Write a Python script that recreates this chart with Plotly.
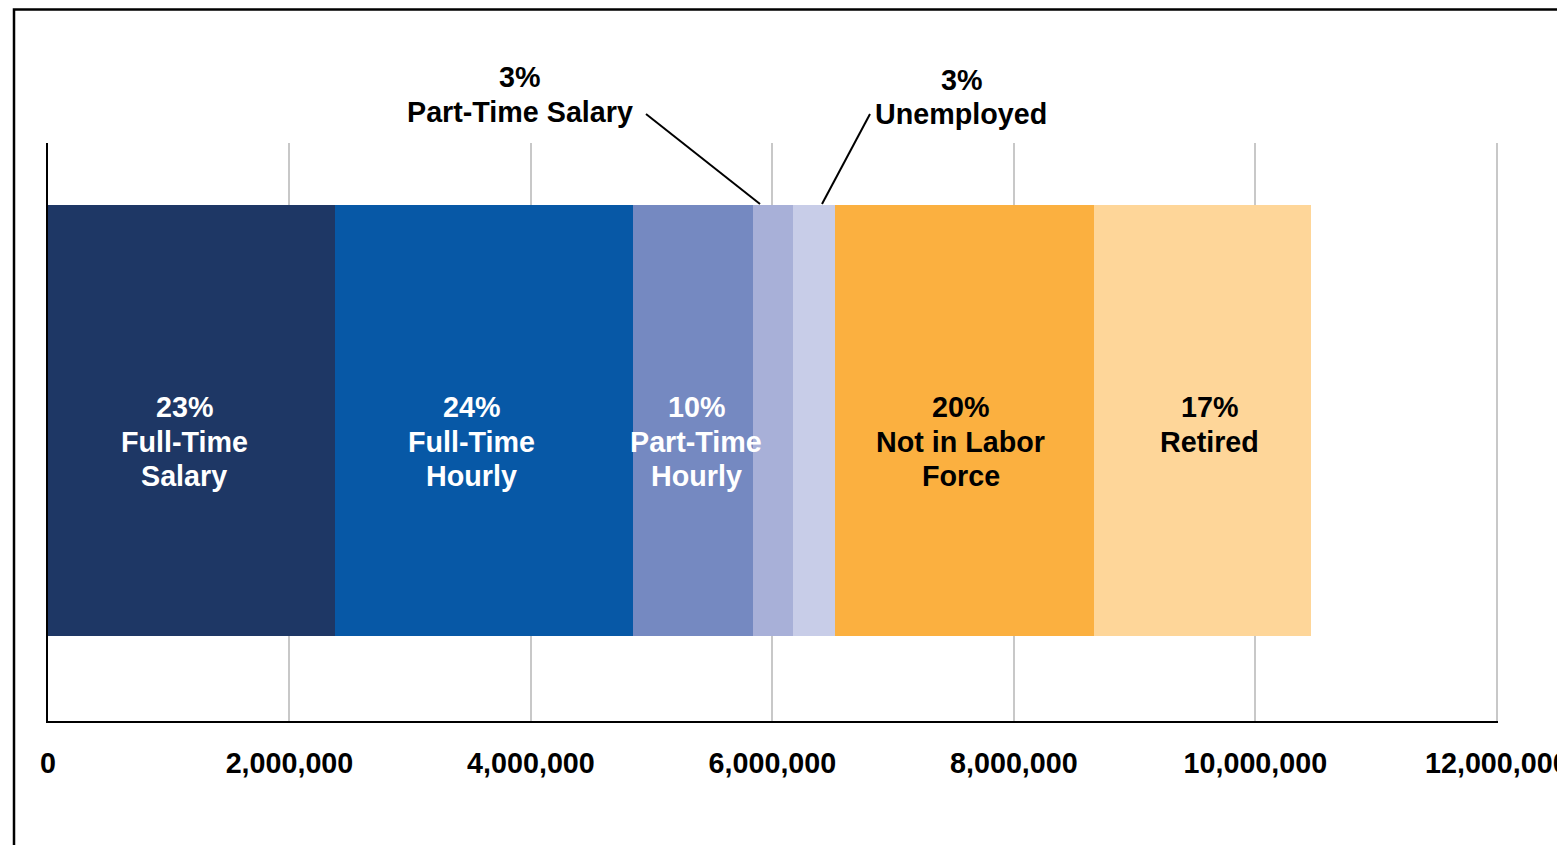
import plotly.graph_objects as go

categories = ["Full-Time Salary", "Full-Time Hourly", "Part-Time Hourly",
              "Part-Time Salary", "Unemployed", "Not in Labor Force", "Retired"]
values = [2375000, 2474000, 993000, 331000, 348000, 2143000, 1796000]
pct_labels = ["23%", "24%", "10%", "3%", "3%", "20%", "17%"]
inside_names = [["Full-Time", "Salary"], ["Full-Time", "Hourly"], ["Part-Time", "Hourly"],
                None, None, ["Not in Labor", "Force"], ["Retired"]]
colors = ["#1E3765", "#0758A6", "#7589C1", "#A8B0D8", "#C8CDE8", "#FBB040", "#FED699"]
label_colors = ["white", "white", "white", "black", "black", "black", "black"]
label_xshift = [-7, -13, 3, 0, 0, -4, 7]
tick_vals = [0, 2000000, 4000000, 6000000, 8000000, 10000000, 12000000]
tick_text = ["0", "2,000,000", "4,000,000", "6,000,000", "8,000,000", "10,000,000", "12,000,000"]

FONT = "Liberation Sans, Arial, sans-serif"
FS = 28.7
OFF = 8  # default body margin of the html page
W, H = 1565 - 2 * OFF, 853 - 2 * OFF
# target screen positions of the plot area: x 48..1498, y 143..721
L, T = 48 - OFF, 143 - OFF
PW, PH = 1450, 578
R, B = W - L - PW, H - T - PH
BARW = 0.747
YR = [-0.52, 0.48]
XMAX = 12010000
LINE_H = 34.5


def px_to_paper(sx, sy):
    return (sx - 48) / PW, (721 - sy) / PH


fig = go.Figure()
for c, v, col in zip(categories, values, colors):
    fig.add_trace(go.Bar(x=[v], y=[0], orientation="h", name=c,
                         marker=dict(color=col, line=dict(width=0)),
                         width=BARW, hoverinfo="x+name"))

annotations = []
bar_center_px = (YR[1] - 0) / (YR[1] - YR[0]) * PH  # from plot top
first_line_offset = 407 - 143 - bar_center_px
cum = 0
for v, p, n, lc, xs in zip(values, pct_labels, inside_names, label_colors, label_xshift):
    mid = cum + v / 2
    cum += v
    if n is None:
        continue
    for i, line in enumerate([p] + n):
        annotations.append(dict(x=mid, y=0, xref="x", yref="y", xanchor="center",
                                yanchor="middle", xshift=xs,
                                yshift=-(first_line_offset + LINE_H * i),
                                text="<b>%s</b>" % line, showarrow=False,
                                font=dict(family=FONT, size=FS, color=lc)))

# outside callouts (paper positions)
callouts = [(3, 520, 77), (4, 961, 80)]
for idx, sx, sy in callouts:
    for i, line in enumerate([pct_labels[idx], categories[idx]]):
        px, py = px_to_paper(sx, sy + LINE_H * i)
        annotations.append(dict(x=px, y=py, xref="paper", yref="paper",
                                xanchor="center", yanchor="middle",
                                text="<b>%s</b>" % line, showarrow=False,
                                font=dict(family=FONT, size=FS, color="black")))

a0 = px_to_paper(646, 114)
a1 = px_to_paper(760, 204)
b0 = px_to_paper(870, 114)
b1 = px_to_paper(822, 204)
fr0 = px_to_paper(14, OFF + 1.5)
shapes = [
    dict(type="line", xref="paper", yref="paper", x0=a0[0], y0=a0[1], x1=a1[0], y1=a1[1],
         line=dict(color="black", width=2)),
    dict(type="line", xref="paper", yref="paper", x0=b0[0], y0=b0[1], x1=b1[0], y1=b1[1],
         line=dict(color="black", width=2)),
    dict(type="rect", xref="paper", yref="paper",
         x0=fr0[0], x1=1.3, y0=-0.5, y1=fr0[1],
         line=dict(color="black", width=2.5), layer="above"),
]

fig.update_layout(
    width=W, height=H, barmode="stack", bargap=0,
    margin=dict(l=L, r=R, t=T, b=B, pad=0, autoexpand=False),
    plot_bgcolor="white", paper_bgcolor="white",
    showlegend=False,
    font=dict(family=FONT, size=FS, color="black"),
    annotations=annotations, shapes=shapes,
    xaxis=dict(range=[0, XMAX], tickvals=tick_vals, ticktext=tick_text,
               showgrid=True, gridcolor="#C8C8C8", gridwidth=2,
               showline=True, linecolor="black", linewidth=2,
               ticks="", zeroline=False, ticklabelstandoff=16,
               ticklabeloverflow="allow",
               tickfont=dict(family=FONT, size=FS, color="black", weight="bold")),
    yaxis=dict(range=YR, showticklabels=False, showgrid=False, zeroline=False,
               showline=True, linecolor="black", linewidth=2, ticks=""),
)

fig.write_html("out.html")
